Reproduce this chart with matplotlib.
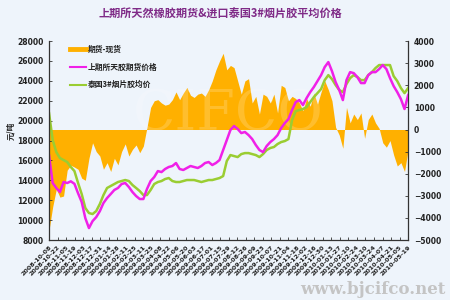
import matplotlib
matplotlib.use("Agg")
import matplotlib.pyplot as plt
from matplotlib.lines import Line2D
import numpy as np

plt.rcParams['font.family'] = ['Noto Sans CJK SC', 'DejaVu Sans']

# ---------------- data ----------------
futures = [16500, 13730, 13230, 12820, 13830, 13730, 13900, 13650, 12700, 11820,
           10200, 9200, 9900, 10300, 10900, 11720, 12220, 12620, 13030, 13230,
           13630, 13730, 13330, 12820, 12420, 12120, 12120, 13130, 13930, 14330,
           14930, 14830, 15140, 15340, 15440, 15740, 15140, 15040, 15240, 15440,
           15340, 15240, 15440, 15740, 15840, 15540, 15740, 16040, 17050, 18050,
           19060, 19460, 19160, 18750, 18860, 18550, 18150, 17550, 17050, 16840,
           17450, 17850, 18150, 18550, 19260, 19760, 20160, 21070, 21870, 22070,
           21570, 22270, 22870, 23380, 23980, 24580, 25390, 25890, 24980, 23880,
           23080, 22070, 24080, 24880, 24780, 24380, 23780, 23780, 24580, 24880,
           24880, 25190, 25590, 25190, 24280, 23480, 22870, 22170, 21170, 22570]

spot = [20760, 18050, 16840, 16240, 16040, 15840, 15340, 14930, 13730, 12620,
        11220, 10710, 10610, 10910, 11620, 12520, 13230, 13430, 13630, 13830,
        13930, 14030, 13930, 13530, 13230, 12920, 12520, 12520, 13030, 13630,
        13830, 13930, 14130, 14230, 13930, 13830, 13830, 13930, 14030, 14030,
        14030, 13930, 13830, 13930, 14030, 14030, 14130, 14230, 14430, 15940,
        16540, 16440, 16340, 16640, 16740, 16740, 16640, 16540, 16340, 16640,
        17050, 17250, 17350, 17650, 17850, 17950, 18150, 20060, 20960, 21070,
        21170, 21370, 21870, 22370, 22770, 23180, 24080, 24580, 24180, 23580,
        23080, 22870, 23680, 24280, 24580, 24380, 24080, 24080, 24580, 24880,
        25290, 25590, 25590, 25590, 25590, 24480, 23980, 23280, 22770, 23280]

spread = [-4550, -3500, -2700, -3060, -3010, -1840, -1620, -1700, -1800, -2200,
          -2300, -1300, -600, -1000, -1200, -1800, -1500, -1900, -1300, -1600,
          -1000, -650, -1200, -900, -700, -1050, -750, 100, 1000, 1300,
          1350, 1200, 1100, 1150, 1350, 1700, 1350, 1650, 1900, 1550,
          1450, 1600, 1650, 1500, 1800, 2200, 2700, 3100, 3450, 2700,
          2900, 2800, 2200, 1600, 2200, 2300, 1200, 1500, 700, 1600,
          1500, 1200, 1600, 750, 2000, 1900, 1300, 1500, 1400, 1200,
          850, 1400, 1050, 1650, 1150, 1700, 2200, 1800, 1300, 100,
          -250, -850, 1000, 300, 700, 450, 750, -400, 450, 700,
          300, 50, -600, -800, -500, -1150, -1650, -1500, -1900, -900]

date_labels = ["2008-10-08", "2008-10-22", "2008-11-05", "2008-11-19", "2008-12-03",
               "2008-12-17", "2008-12-31", "2009-01-14", "2009-01-28", "2009-02-11",
               "2009-02-25", "2009-03-11", "2009-03-25", "2009-04-08", "2009-04-22",
               "2009-05-06", "2009-05-20", "2009-06-03", "2009-06-17", "2009-07-01",
               "2009-07-15", "2009-07-29", "2009-08-12", "2009-08-26", "2009-09-09",
               "2009-09-23", "2009-10-07", "2009-10-21", "2009-11-04", "2009-11-18",
               "2009-12-02", "2009-12-16", "2009-12-30", "2010-01-13", "2010-01-27",
               "2010-02-10", "2010-02-24", "2010-03-10", "2010-03-24", "2010-04-07",
               "2010-04-21", "2010-05-05", "2010-05-19"]

legend_labels = ["期货-现货", "上期所天胶期货价格", "泰国3#烟片胶均价"]
title = "上期所天然橡胶期货&进口泰国3#烟片胶平均价格"

# ---------------- style ----------------
bg = '#eef4fb'
c_orange = '#ffb000'
c_mag = '#f020e8'
c_green = '#9acd32'
c_axis = '#333333'

fig = plt.figure(figsize=(4.5, 3.0), dpi=100, facecolor=bg)
ax = fig.add_axes([0.109, 0.20, 0.798, 0.663])
ax2 = ax.twinx()
ax.set_zorder(2)
ax2.set_zorder(1)
ax.patch.set_visible(False)
ax2.set_facecolor(bg)

x = np.arange(len(futures))

ax2.fill_between(x, 0, spread, color=c_orange, lw=0)
ax.plot(x, spot, color=c_green, lw=1.8, solid_joinstyle='round')
ax.plot(x, futures, color=c_mag, lw=1.8, solid_joinstyle='round')

ax.set_xlim(0, len(futures) - 1)
ax.set_ylim(8000, 28000)
ax2.set_ylim(-5000, 4000)
ax.set_yticks(np.arange(8000, 28001, 2000))
ax2.set_yticks(np.arange(-5000, 4001, 1000))

tick_pos = np.linspace(0, len(futures) - 1, len(date_labels))
ax.set_xticks(tick_pos)
ax.set_xticklabels(date_labels, rotation=45, ha='right', rotation_mode='anchor',
                   fontsize=4.6, fontweight='bold', family='DejaVu Sans', color='#222222')

for a in (ax, ax2):
    a.spines['top'].set_visible(False)
    for s in a.spines.values():
        s.set_color(c_axis)
        s.set_linewidth(0.9)
ax.spines['right'].set_visible(False)
ax2.spines['left'].set_visible(False)
ax2.spines['bottom'].set_visible(False)

ax.tick_params(axis='y', direction='in', length=2.5, width=0.6, color=c_axis,
               labelsize=5.5, pad=4)
ax.tick_params(axis='x', direction='in', length=2, width=0.6, color=c_axis, pad=3)
ax2.tick_params(axis='y', direction='in', length=2.5, width=0.6, color=c_axis,
                labelsize=5.5, pad=4)
for lab in ax.get_yticklabels() + ax2.get_yticklabels():
    lab.set_fontweight('bold')
    lab.set_family('DejaVu Sans')
    lab.set_color('#222222')

# faint watermark in middle
ax.text(0.5, 0.63, "CIFCO", transform=ax.transAxes, ha='center', va='center',
        fontsize=40, color='white', alpha=0.18, family='DejaVu Serif', zorder=0)

handles = [Line2D([0], [0], color=c_orange, lw=3.5),
           Line2D([0], [0], color=c_mag, lw=1.5),
           Line2D([0], [0], color=c_green, lw=1.5)]
leg = ax.legend(handles, legend_labels, loc='upper left', bbox_to_anchor=(0.05, 0.995),
                frameon=False, fontsize=5.6, handlelength=2.0, handletextpad=0.3,
                labelspacing=1.1, borderaxespad=0)
for t in leg.get_texts():
    t.set_fontweight('bold')
    t.set_color('#222222')

fig.text(0.49, 0.953, title, ha='center', va='center', fontsize=8, fontweight='bold',
         color='#7f2a87')
fig.text(0.024, 0.565, "元/吨", rotation=90, ha='center', va='center', fontsize=5.5,
         fontweight='bold', color='#222222')
fig.text(0.99, 0.035, "www.bjcifco.net", ha='right', va='center', fontsize=12,
         fontweight='bold', color='#c4c4c4', family='DejaVu Serif')

fig.savefig("out.png", dpi=100, facecolor=bg)
